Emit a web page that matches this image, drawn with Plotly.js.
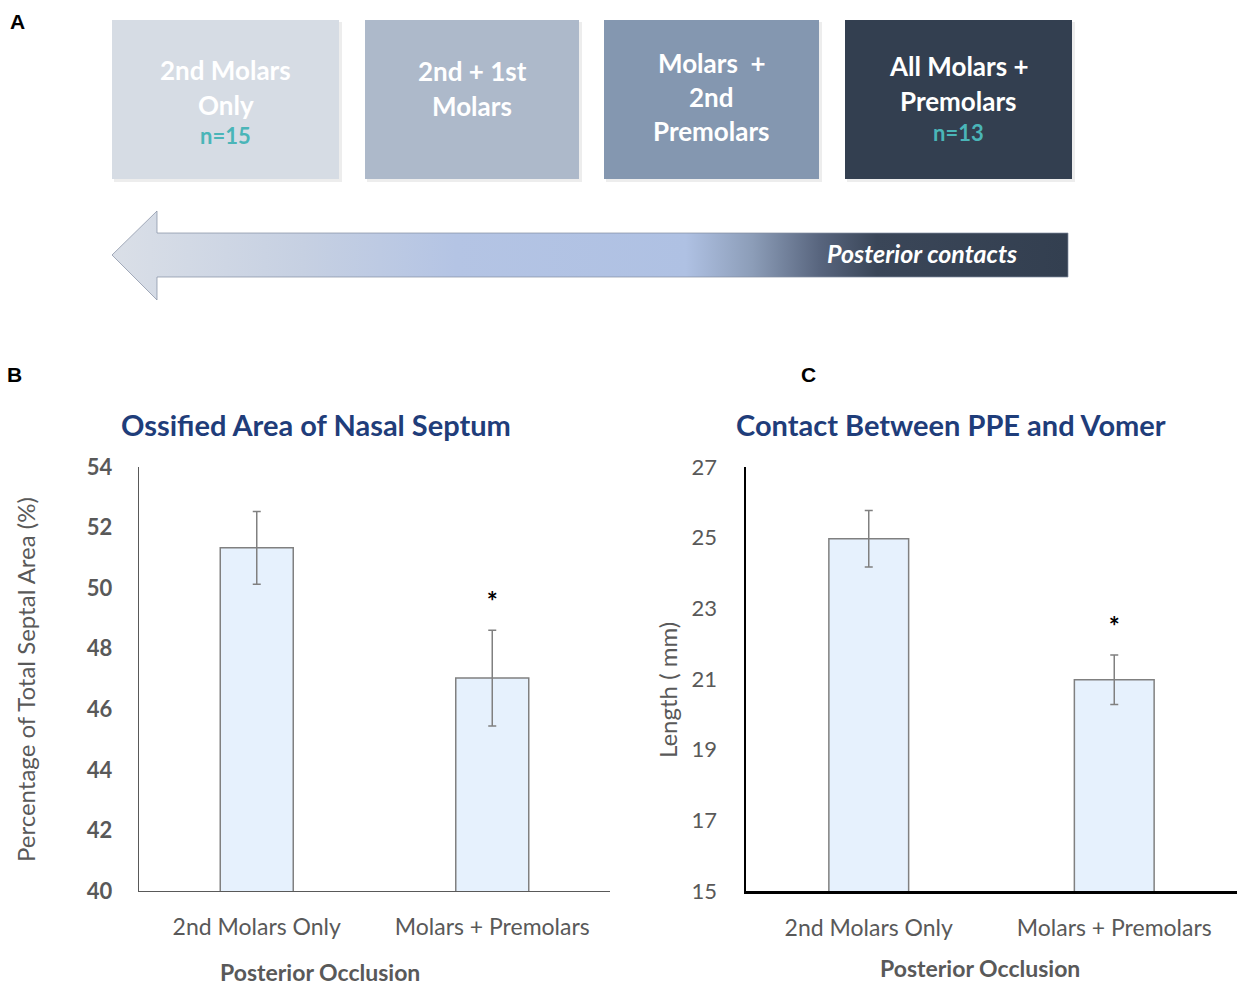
<!DOCTYPE html>
<html><head><meta charset="utf-8">
<script src="https://cdn.plot.ly/plotly-3.0.1.min.js"></script>
<style>html,body{margin:0;padding:0;background:#fff}</style>
</head><body><div id="chart" style="width:1237px;height:987px"></div>
<script>
// ---------- DATA ----------
const categories = ['2nd Molars Only', 'Molars + Premolars'];
const ossifiedMean = [51.33, 47.03];
const ossifiedErr = [1.2, 1.58];
const ossifiedSigY = [null, 49.45];
const contactMean = [24.97, 20.98];
const contactErr = [0.8, 0.7];
const contactSigY = [null, 22.4];
const ossifiedTicks = [40, 42, 44, 46, 48, 50, 52, 54];
const contactTicks = [15, 17, 19, 21, 23, 25, 27];
const groupLines = [
  ['2nd Molars', 'Only'],
  ['2nd + 1st', 'Molars'],
  ['Molars  +', '2nd', 'Premolars'],
  ['All Molars +', 'Premolars']
];
const groupN = ['n=15', '', '', 'n=13'];
const arrowLabel = 'Posterior contacts';

// ---------- LAYOUT HELPERS (pixel -> paper) ----------
const W = 1237, H = 987;
const px = x => x / W;
const py = y => 1 - y / H;
const FONT = 'Lato, "Open Sans", sans-serif';
const GREY = '#595959';
const TITLEBLUE = '#1F3D7A';
const TEAL = '#4AB5B8';

const shapes = [];
const annotations = [];

// panel A boxes
const boxes = [
  {x0: 112, x1: 339, fill: '#D6DCE4'},
  {x0: 365, x1: 579, fill: '#ADB9CA'},
  {x0: 604, x1: 819, fill: '#8497B0'},
  {x0: 845, x1: 1072, fill: '#333F50'}
];
const boxTop = 20, boxBot = 179;
const lineYs = [[70, 105], [71, 106], [63, 97, 131], [66, 101]];
const nYs = [136, null, null, 132];
boxes.forEach((b, i) => {
  shapes.push({type: 'rect', xref: 'paper', yref: 'paper', x0: px(b.x0 + 2), x1: px(b.x1 + 3), y0: py(boxBot + 3), y1: py(boxTop + 2),
    fillcolor: 'rgba(0,0,0,0.07)', line: {width: 0}, layer: 'below'});
  shapes.push({type: 'rect', xref: 'paper', yref: 'paper', x0: px(b.x0), x1: px(b.x1), y0: py(boxBot), y1: py(boxTop),
    fillcolor: b.fill, line: {width: 0}, layer: 'below'});
  const cx = (b.x0 + b.x1) / 2;
  groupLines[i].forEach((t, j) => {
    annotations.push({xref: 'paper', yref: 'paper', x: px(cx), y: py(lineYs[i][j]), text: '<b>' + t + '</b>',
      showarrow: false, xanchor: 'center', yanchor: 'middle', font: {family: FONT, size: 26, color: '#FFFFFF'}});
  });
  if (groupN[i]) {
    annotations.push({xref: 'paper', yref: 'paper', x: px(cx), y: py(nYs[i]), text: '<b>' + groupN[i] + '</b>',
      showarrow: false, xanchor: 'center', yanchor: 'middle', font: {family: FONT, size: 22, color: TEAL}});
  }
});

// arrow label
annotations.push({xref: 'paper', yref: 'paper', x: px(922), y: py(253), text: '<b><i>' + arrowLabel + '</i></b>',
  showarrow: false, xanchor: 'center', yanchor: 'middle', font: {family: FONT, size: 25, color: '#FFFFFF'}});

// panel letters
[['A', 17, 22], ['B', 15, 374], ['C', 808, 374]].forEach(p => {
  annotations.push({xref: 'paper', yref: 'paper', x: px(p[1]), y: py(p[2]), text: '<b>' + p[0] + '</b>',
    showarrow: false, xanchor: 'center', yanchor: 'middle', font: {family: 'Liberation Sans, Arial, sans-serif', size: 21, color: '#000'}});
});

// chart titles
annotations.push({xref: 'paper', yref: 'paper', x: px(316), y: py(425), text: '<b>Ossified Area of Nasal Septum</b>',
  showarrow: false, xanchor: 'center', yanchor: 'middle', font: {family: FONT, size: 29, color: TITLEBLUE}});
annotations.push({xref: 'paper', yref: 'paper', x: px(951), y: py(425), text: '<b>Contact Between PPE and Vomer</b>',
  showarrow: false, xanchor: 'center', yanchor: 'middle', font: {family: FONT, size: 29, color: TITLEBLUE}});

// axis titles
annotations.push({xref: 'paper', yref: 'paper', x: px(25), y: py(680), text: 'Percentage of Total Septal Area (%)', textangle: -90,
  showarrow: false, xanchor: 'center', yanchor: 'middle', font: {family: FONT, size: 24, color: GREY}});
annotations.push({xref: 'paper', yref: 'paper', x: px(667), y: py(690), text: 'Length ( mm)', textangle: -90,
  showarrow: false, xanchor: 'center', yanchor: 'middle', font: {family: FONT, size: 24, color: GREY}});
annotations.push({xref: 'paper', yref: 'paper', x: px(320), y: py(972), text: '<b>Posterior Occlusion</b>', borderpad: 0,
  showarrow: false, xanchor: 'center', yanchor: 'middle', font: {family: FONT, size: 23, color: GREY}});
annotations.push({xref: 'paper', yref: 'paper', x: px(980), y: py(968), text: '<b>Posterior Occlusion</b>', borderpad: 0,
  showarrow: false, xanchor: 'center', yanchor: 'middle', font: {family: FONT, size: 23, color: GREY}});

// ---------- TRACES ----------
const barStyle = {color: '#E6F1FD', line: {color: '#808080', width: 1.5}};
const traces = [
  // arrow (decoration) in overlay pixel axes
  {type: 'scatter', xaxis: 'x3', yaxis: 'y3', mode: 'lines', hoverinfo: 'skip', showlegend: false,
   x: [112, 157, 157, 1068, 1068, 157, 157, 112], y: [255, 211, 233, 233, 277, 277, 300, 255],
   fill: 'toself', line: {color: 'rgba(130,140,160,0.7)', width: 1},
   fillgradient: {type: 'horizontal', colorscale: [
     [0, '#DADFE7'], [0.2, '#C6D0E2'], [0.36, '#B4C4E4'], [0.6, '#AFC1E3'],
     [0.67, '#8C9DB8'], [0.74, '#58657E'], [0.8, '#3A4658'], [1, '#333F50']]}},
  {type: 'bar', xaxis: 'x', yaxis: 'y', x: categories, y: ossifiedMean, width: 0.31, marker: barStyle, showlegend: false,
   error_y: {type: 'data', array: ossifiedErr, color: '#808080', thickness: 1.5, width: 4}},
  {type: 'scatter', xaxis: 'x', yaxis: 'y', mode: 'text', x: categories, y: ossifiedSigY, text: ['', '<b>*</b>'], showlegend: false,
   textposition: 'middle center', cliponaxis: false, textfont: {family: FONT, size: 26, color: '#000'}},
  {type: 'bar', xaxis: 'x2', yaxis: 'y2', x: categories, y: contactMean, width: 0.325, marker: barStyle, showlegend: false,
   error_y: {type: 'data', array: contactErr, color: '#808080', thickness: 1.5, width: 4}},
  {type: 'scatter', xaxis: 'x2', yaxis: 'y2', mode: 'text', x: categories, y: contactSigY, text: ['', '<b>*</b>'], showlegend: false,
   textposition: 'middle center', cliponaxis: false, textfont: {family: FONT, size: 26, color: '#000'}}
];

const yDom = [py(891), py(467)];
const layout = {
  width: W, height: H,
  margin: {l: 0, r: 0, t: 0, b: 0},
  paper_bgcolor: '#FFFFFF', plot_bgcolor: 'rgba(0,0,0,0)',
  showlegend: false,
  font: {family: FONT, color: GREY},
  xaxis: {anchor: 'y', domain: [px(139), px(610)], range: [-0.5, 1.5], showline: true, linecolor: '#595959', linewidth: 1.2,
    ticks: '', showgrid: false, zeroline: false, automargin: false, ticklabelstandoff: 15,
    tickfont: {family: FONT, size: 23, color: GREY}, fixedrange: true},
  yaxis: {anchor: 'x', domain: yDom, range: [40, 54], tickvals: ossifiedTicks, showline: true, linecolor: '#595959', linewidth: 1.2,
    ticks: '', showgrid: false, zeroline: false, automargin: false, ticklabelstandoff: 21,
    tickfont: {family: FONT, size: 22, color: GREY, weight: 'bold'}, fixedrange: true},
  xaxis2: {anchor: 'y2', domain: [px(746), 1], range: [-0.5, 1.5], showline: true, linecolor: '#000000', linewidth: 2.5,
    ticks: '', showgrid: false, zeroline: false, automargin: false, ticklabelstandoff: 15,
    tickfont: {family: FONT, size: 23, color: GREY}, fixedrange: true},
  yaxis2: {anchor: 'x2', domain: yDom, range: [15, 27], tickvals: contactTicks, showline: true, linecolor: '#000000', linewidth: 2.5,
    ticks: '', showgrid: false, zeroline: false, automargin: false, ticklabelstandoff: 22,
    tickfont: {family: FONT, size: 22, color: GREY}, fixedrange: true},
  xaxis3: {anchor: 'y3', domain: [0, 1], range: [0, W], visible: false, fixedrange: true},
  yaxis3: {anchor: 'x3', domain: [0, 1], range: [H, 0], visible: false, fixedrange: true},
  shapes: shapes,
  annotations: annotations
};

Plotly.newPlot('chart', traces, layout, {displayModeBar: false, staticPlot: true});
</script>
</body></html>
